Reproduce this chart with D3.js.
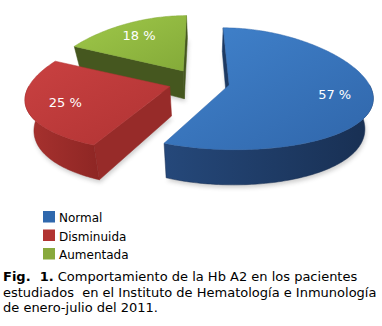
<!DOCTYPE html>
<html>
<head>
<meta charset="utf-8">
<script src="https://cdn.jsdelivr.net/npm/d3@7"></script>
<style>
  html, body { margin: 0; padding: 0; background: #fff; }
  svg { display: block; }
</style>
</head>
<body>
<script>
// Hb A2 behaviour among the studied patients (percent of patients)
const categories = ["Normal", "Disminuida", "Aumentada"];
const percentages = [57, 25, 18];
const valueLabels = ["57 %", "25 %", "18 %"];
const captionLines = [
  ["Fig.\u00a0 1.", " Comportamiento de la Hb A2 en los pacientes"],
  ["", "estudiados\u00a0 en el Instituto de Hematología e Inmunología"],
  ["", "de enero-julio del 2011."]
];

// palette: top face light/dark, wall, radial face, legend swatch
const topLight = ["#4183cd", "#c94141", "#9fc849"];
const topDark  = ["#3066aa", "#b03333", "#84aa39"];
const wallLight = ["#25487a", "#a8322f", "#4f6326"];
const wallDark  = ["#182f52", "#8e2624", "#3d4e1c"];
const faceColor = ["#1d3a63", "#972b29", "#45571f"];
const swatch = ["#2f68ad", "#b13432", "#88a93c"];

const W = 382, H = 326;
const svg = d3.select("body").append("svg")
  .attr("width", W).attr("height", H)
  .attr("font-family", "'DejaVu Sans', Verdana, sans-serif");

// 3D pie geometry
const R = 139;           // radius in world units
const cx = 199, cy = 82; // screen position of the pie centre
const tilt = 0.436;      // vertical squash of the disc
const tiltBow = 0.028;   // near half of the disc drawn a little deeper
const persp = 0.2;       // horizontal widening toward the viewer
const depth = 29;        // slab thickness
const camX = 205;        // horizontal position of the eye
const shrink = 0.05;     // bottom rim pulls toward the eye
const explode = 0.22;

const pie = d3.pie().sort(null).value(d => d);
const arcs = pie(percentages);

function proj(X, Z, bottom) {
  const fz = 1 + persp * Z / R;
  let x = cx + X * fz, y = cy + tilt * Z + tiltBow * Z * Z / R;
  if (bottom) { x = camX + (x - camX) * (1 - shrink); y += depth * fz; }
  return [x, y];
}
function offset(d) {
  const m = (d.startAngle + d.endAngle) / 2;
  return [explode * R * Math.sin(m), -explode * R * Math.cos(m)];
}
function pt(d, r, a, bottom) {
  const [ox, oz] = offset(d);
  return proj(ox + r * Math.sin(a), oz - r * Math.cos(a), bottom);
}
function rim(d, a0, a1, bottom) {
  const n = Math.max(2, Math.ceil((a1 - a0) / (Math.PI / 180)));
  return d3.range(n + 1).map(i => pt(d, R, a0 + (a1 - a0) * i / n, bottom));
}
const line = d3.line();
function area(p) {
  let s = 0;
  for (let i = 0; i < p.length; i++) {
    const a = p[i], b = p[(i + 1) % p.length];
    s += a[0] * b[1] - b[0] * a[1];
  }
  return s;
}

const defs = svg.append("defs");
defs.append("filter").attr("id", "soft")
  .attr("x", "-20%").attr("y", "-20%").attr("width", "140%").attr("height", "140%")
  .append("feGaussianBlur").attr("stdDeviation", 2.2);

arcs.forEach((d, i) => {
  const gt = defs.append("linearGradient").attr("id", "top" + i)
    .attr("x1", "0").attr("y1", "0").attr("x2", "1").attr("y2", "1");
  gt.append("stop").attr("offset", "0%").attr("stop-color", topLight[i]);
  gt.append("stop").attr("offset", "100%").attr("stop-color", topDark[i]);
  const gw = defs.append("linearGradient").attr("id", "wall" + i)
    .attr("x1", "0").attr("y1", "0").attr("x2", "1").attr("y2", "0");
  gw.append("stop").attr("offset", "0%").attr("stop-color", wallLight[i]);
  gw.append("stop").attr("offset", "100%").attr("stop-color", wallDark[i]);
});

// soft shadow under the slabs
const shadow = svg.append("g").attr("filter", "url(#soft)").attr("opacity", 0.28);
arcs.forEach(d => {
  const p = [pt(d, 0, 0, true)].concat(rim(d, d.startAngle, d.endAngle, true))
    .map(q => [q[0] + 1, q[1] + 3]);
  shadow.append("path").attr("d", line(p) + "Z").attr("fill", "#555");
});

// paint back to front: Aumentada, Disminuida, Normal
const order = [2, 1, 0];
order.forEach(i => {
  const d = arcs[i];
  const g = svg.append("g");
  // radial faces, kept only when turned toward the viewer
  const faces = [
    [pt(d, 0, d.startAngle, true), pt(d, R, d.startAngle, true),
     pt(d, R, d.startAngle, false), pt(d, 0, d.startAngle, false)],
    [pt(d, 0, d.endAngle, false), pt(d, R, d.endAngle, false),
     pt(d, R, d.endAngle, true), pt(d, 0, d.endAngle, true)]
  ];
  faces.forEach(f => {
    if (area(f) > 0) {
      g.append("path").attr("d", line(f) + "Z")
        .attr("fill", faceColor[i]).attr("stroke", faceColor[i]).attr("stroke-width", 0.5);
    }
  });
  // outer wall on the front half of the disc
  const a0 = Math.max(d.startAngle, Math.PI / 2);
  const a1 = Math.min(d.endAngle, 3 * Math.PI / 2);
  if (a1 > a0) {
    const wall = rim(d, a0, a1, false).concat(rim(d, a0, a1, true).reverse());
    g.append("path").attr("d", line(wall) + "Z")
      .attr("fill", `url(#wall${i})`).attr("stroke", wallDark[i]).attr("stroke-width", 0.5);
  }
  // top face
  const top = [pt(d, 0, 0, false)].concat(rim(d, d.startAngle, d.endAngle, false));
  g.append("path").attr("d", line(top) + "Z")
    .attr("fill", `url(#top${i})`).attr("stroke", topDark[i]).attr("stroke-width", 0.5);
});

// value labels on the top faces
arcs.forEach((d, i) => {
  const m = (d.startAngle + d.endAngle) / 2;
  const [x, y] = pt(d, R * 0.74, m, false);
  svg.append("text").attr("x", x).attr("y", y + 4.5)
    .attr("text-anchor", "middle").attr("fill", "#fff")
    .attr("font-size", 13).text(valueLabels[i]);
});

// legend
const legend = svg.append("g").attr("transform", "translate(43,211)");
categories.forEach((c, i) => {
  const row = legend.append("g").attr("transform", `translate(0,${i * 18.5})`);
  row.append("rect").attr("width", 12).attr("height", 11.5).attr("fill", swatch[i]);
  row.append("text").attr("x", 16).attr("y", 11).attr("font-size", 12)
    .attr("fill", "#000").text(c);
});

// caption
const cap = svg.append("g").attr("transform", "translate(3,281)");
captionLines.forEach((ln, i) => {
  const t = cap.append("text").attr("y", i * 15.5).attr("font-size", 13).attr("fill", "#000");
  if (ln[0]) t.append("tspan").attr("font-weight", "bold").text(ln[0]);
  t.append("tspan").text(ln[1]);
});
</script>
</body>
</html>
